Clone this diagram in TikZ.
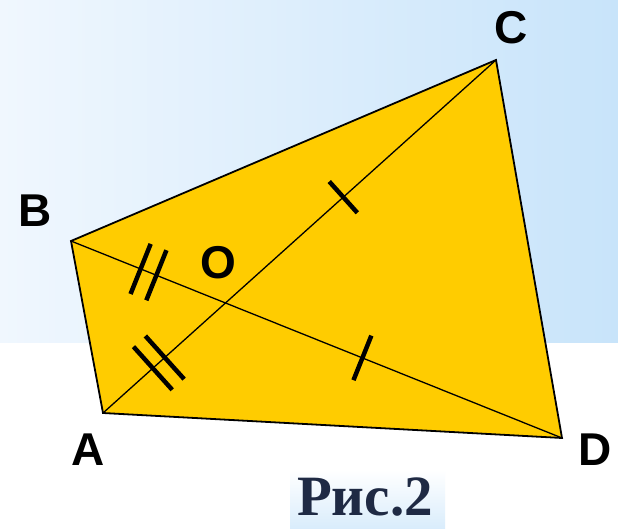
\documentclass[tikz,border=0pt]{standalone}
\usepackage{fontspec}
\setmainfont{Liberation Sans}
\newfontfamily\serifbold{Liberation Serif}
\usetikzlibrary{calc}
\definecolor{quadfill}{RGB}{255,204,0}
\definecolor{bgleft}{RGB}{240,247,254}
\definecolor{bgright}{RGB}{200,228,250}
\definecolor{capcol}{RGB}{31,42,68}
\tikzset{
  edge/.style={line width=1.8pt, line join=miter},
  diag/.style={line width=1.3pt},
  tick/.style={line width=4.5pt},
  vlabel/.style={font=\fontsize{46}{46}\selectfont\bfseries, inner sep=0pt}
}
\begin{document}
\begin{tikzpicture}[x=1pt,y=-1pt]
\useasboundingbox (0,0) rectangle (618,529);
% background
\shade[left color=bgleft, right color=bgright] (0,0) rectangle (618,343);
\fill[white] (0,343) rectangle (618,529);
\shade[top color=white, bottom color=bgright!70] (290,470) rectangle (445,529);
% vertices
\coordinate (A) at (103,413);
\coordinate (B) at (71,241);
\coordinate (C) at (496,60);
\coordinate (D) at (562,438);
% quadrilateral
\fill[quadfill] (A) -- (B) -- (C) -- (D) -- cycle;
\draw[diag] (A) -- (C);
\draw[diag] (B) -- (D);
\draw[edge] (A) -- (B) -- (C) -- (D) -- cycle;
% ticks on BO
\coordinate (b1) at ($(B)!75pt!(D)$);
\coordinate (b2) at ($(B)!92pt!(D)$);
\draw[tick] ($(b1)!27pt!90:(D)$) -- ($(b1)!27pt!-90:(D)$);
\draw[tick] ($(b2)!27pt!90:(D)$) -- ($(b2)!27pt!-90:(D)$);
% ticks on AO
\coordinate (a1) at ($(A)!67pt!(C)$);
\coordinate (a2) at ($(A)!83pt!(C)$);
\draw[tick] ($(a1)!29pt!90:(C)$) -- ($(a1)!29pt!-90:(C)$);
\draw[tick] ($(a2)!29pt!90:(C)$) -- ($(a2)!29pt!-90:(C)$);
% tick on OC
\coordinate (c1) at ($(A)!323pt!(C)$);
\draw[tick] ($(c1)!21pt!90:(C)$) -- ($(c1)!21pt!-90:(C)$);
% tick on OD
\coordinate (d1) at ($(B)!314pt!(D)$);
\draw[tick] ($(d1)!24pt!90:(D)$) -- ($(d1)!24pt!-90:(D)$);
% labels
\node[vlabel] (lA) at (88,450) {A};
\node[vlabel] (lB) at (35,211) {B};
\node[vlabel] (lC) at (511,28) {C};
\node[vlabel] (lD) at (595,450) {D};
\node[vlabel] (lO) at (218,263) {O};
\node[inner sep=0pt, text=capcol, anchor=base, font=\serifbold\fontsize{57}{57}\selectfont\bfseries] (cap) at (365,515) {Рис.2};
\end{tikzpicture}
\end{document}
